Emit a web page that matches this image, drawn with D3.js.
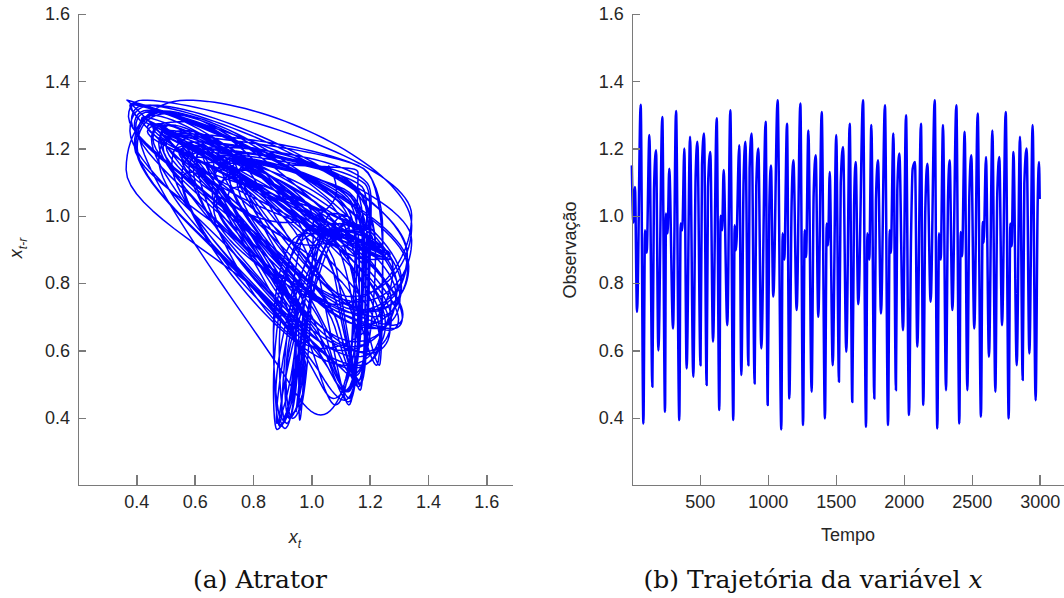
<!DOCTYPE html>
<html>
<head>
<meta charset="utf-8">
<script src="https://cdn.jsdelivr.net/npm/d3@7"></script>
<style>
  body { margin: 0; background: #fff; }
  svg { display: block; }
  .axis .tick text { font-family: "Liberation Sans", Arial, sans-serif; font-size: 18px; fill: #262626; }
  .axis path, .axis line { stroke: #7a7a7a; stroke-width: 1.4; shape-rendering: crispEdges; }
  .lbl { font-family: "Liberation Sans", Arial, sans-serif; font-size: 18px; fill: #262626; }
  .cap { font-family: "DejaVu Serif", serif; font-size: 25px; fill: #111; }
</style>
</head>
<body>
<svg id="chart" width="1064" height="598"></svg>
<script>
// Tick values
const valueTicks = [0.4, 0.6, 0.8, 1.0, 1.2, 1.4, 1.6];
const timeTicks = [500, 1000, 1500, 2000, 2500, 3000];

// Embedding delay r used for the phase portrait (x_t against x_{t-r})
const delay = 19;

// Turning points of the observed series x(t): times and values
const tsTime = [
  1, 12, 24, 39, 66, 86, 98, 110, 130, 152, 164, 179, 196, 225, 245, 252, 264, 276, 304, 326,
  350, 360, 372, 387, 404, 429, 453, 470, 483, 506, 517, 532, 551, 561, 578, 598, 625, 644, 654, 665,
  676, 703, 725, 747, 757, 767, 791, 806, 823, 836, 858, 867, 882, 904, 916, 931, 953, 985, 1000, 1012,
  1024, 1041, 1073, 1100, 1110, 1122, 1142, 1159, 1176, 1189, 1213, 1240, 1260, 1272, 1282, 1299, 1323, 1338, 1353, 1372,
  1397, 1421, 1434, 1444, 1456, 1478, 1504, 1524, 1537, 1554, 1578, 1603, 1622, 1635, 1647, 1666, 1701, 1723, 1733, 1747,
  1762, 1784, 1796, 1811, 1833, 1862, 1885, 1897, 1905, 1924, 1943, 1953, 1968, 1995, 2017, 2039, 2054, 2066, 2083, 2100,
  2127, 2144, 2159, 2174, 2198, 2228, 2247, 2260, 2272, 2289, 2311, 2326, 2338, 2358, 2387, 2409, 2419, 2429, 2448, 2468,
  2483, 2497, 2519, 2544, 2568, 2581, 2588, 2605, 2627, 2652, 2674, 2688, 2703, 2723, 2750, 2772, 2784, 2794, 2807, 2831,
  2855, 2875, 2887, 2904, 2924, 2948, 2970, 2985, 2995, 3000
];
const tsValue = [
  1.15, 0.98, 1.086, 0.715, 1.33, 0.383, 0.957, 0.89, 1.24, 0.492, 1.08, 1.195, 0.60, 1.294, 0.418, 1.007, 0.948, 1.14, 0.665, 1.312,
  0.393, 0.977, 0.957, 1.2, 0.546, 1.235, 0.522, 1.116, 1.22, 0.556, 1.15, 1.245, 0.497, 1.086, 1.19, 0.626, 1.29, 0.423, 1.0, 0.957,
  1.136, 0.675, 1.314, 0.393, 0.972, 0.898, 1.21, 0.527, 1.11, 1.22, 0.556, 1.14, 1.245, 0.502, 1.09, 1.2, 0.606, 1.28, 0.438, 1.027,
  1.15, 0.76, 1.344, 0.365, 0.948, 0.87, 1.274, 0.457, 1.04, 1.165, 0.72, 1.334, 0.378, 0.957, 0.878, 1.254, 0.477, 1.066, 1.18, 0.70,
  1.309, 0.398, 0.977, 0.913, 1.13, 0.556, 1.24, 0.507, 1.096, 1.205, 0.596, 1.274, 0.447, 1.03, 1.16, 0.737, 1.344, 0.373, 0.948, 0.87,
  1.27, 0.457, 1.047, 1.165, 0.71, 1.329, 0.378, 0.957, 0.89, 1.245, 0.482, 1.076, 1.185, 0.66, 1.299, 0.408, 0.937, 1.14, 1.16, 0.611,
  1.274, 0.438, 1.02, 1.155, 0.745, 1.344, 0.368, 0.948, 0.87, 1.27, 0.482, 1.056, 1.165, 0.72, 1.329, 0.383, 0.952, 0.88, 1.25, 0.482,
  1.066, 1.18, 0.665, 1.304, 0.403, 0.982, 0.92, 1.175, 0.581, 1.254, 0.477, 1.066, 1.175, 0.675, 1.309, 0.398, 0.977, 0.91, 1.19, 0.556,
  1.235, 0.512, 1.096, 1.2, 0.591, 1.27, 0.452, 1.037, 1.16, 1.05
];

const series = tsTime.map((t, i) => ({ t, v: tsValue[i] }));

// Monotone cubic (Steffen) slopes, the same rule as d3.curveMonotoneX,
// so the phase portrait follows exactly the curve drawn in panel (b).
const n = series.length;
const h = d3.range(n - 1).map(i => series[i + 1].t - series[i].t);
const s = d3.range(n - 1).map(i => (series[i + 1].v - series[i].v) / h[i]);
const m = series.map((d, i) => {
  if (i === 0) return s[0];
  if (i === n - 1) return s[n - 2];
  const p = (s[i - 1] * h[i] + s[i] * h[i - 1]) / (h[i - 1] + h[i]);
  return (Math.sign(s[i - 1]) + Math.sign(s[i])) * Math.min(Math.abs(s[i - 1]), Math.abs(s[i]), 0.5 * Math.abs(p)) || 0;
});
const bis = d3.bisector(d => d.t).right;
function valueAt(t) {
  const i = Math.min(Math.max(bis(series, t), 1), n - 1) - 1;
  const a = series[i], b = series[i + 1], hh = h[i];
  const u = (t - a.t) / hh, u2 = u * u, u3 = u2 * u;
  return (2 * u3 - 3 * u2 + 1) * a.v + (u3 - 2 * u2 + u) * hh * m[i]
       + (-2 * u3 + 3 * u2) * b.v + (u3 - u2) * hh * m[i + 1];
}

// Phase portrait: x(t) against x(t - r)
const portraitTimes = d3.range(tsTime[0] + delay, tsTime[n - 1] + 0.001, 0.5);
const portrait = portraitTimes.map(t => ({ xt: valueAt(t), xlag: valueAt(t - delay) }));

const svg = d3.select("#chart");

// ---------- (a) phase portrait ----------
const xA = d3.scaleLinear().domain([0.2, 1.688]).range([78, 512]);
const yA = d3.scaleLinear().domain([0.2, 1.6]).range([485, 14]);

const gA = svg.append("g");
gA.append("path")
  .datum(portrait)
  .attr("fill", "none")
  .attr("stroke", "#0000ff")
  .attr("stroke-width", 1.5)
  .attr("stroke-linejoin", "round")
  .attr("d", d3.line().x(d => xA(d.xt)).y(d => yA(d.xlag)));

gA.append("g").attr("class", "axis")
  .attr("transform", "translate(78,0)")
  .call(d3.axisLeft(yA).tickValues(valueTicks).tickFormat(d3.format(".1f")).tickSizeInner(-8).tickSizeOuter(0).tickPadding(8));
gA.append("g").attr("class", "axis")
  .attr("transform", "translate(0,485)")
  .call(d3.axisBottom(xA).tickValues(valueTicks).tickFormat(d3.format(".1f")).tickSizeInner(-10).tickSizeOuter(0).tickPadding(10));

// axis titles
const xl = gA.append("text").attr("class", "lbl").attr("x", 295).attr("y", 543).attr("text-anchor", "middle");
xl.append("tspan").attr("font-style", "italic").text("x");
xl.append("tspan").attr("font-style", "italic").attr("font-size", 12).attr("dy", 5).text("t");

const yl = gA.append("text").attr("class", "lbl").attr("text-anchor", "middle")
  .attr("transform", "translate(22,248) rotate(-90)");
yl.append("tspan").attr("font-style", "italic").text("x");
yl.append("tspan").attr("font-style", "italic").attr("font-size", 12).attr("dy", 5).text("t-r");

gA.append("text").attr("class", "cap").attr("x", 260).attr("y", 588).attr("text-anchor", "middle").text("(a) Atrator");

// ---------- (b) time series ----------
const xT = d3.scaleLinear().domain([0, 3200]).range([631.7, 631.7 + 3200 * 0.136]);
const yT = d3.scaleLinear().domain([0.2, 1.6]).range([485, 14]);

const gB = svg.append("g");
gB.append("path")
  .datum(series)
  .attr("fill", "none")
  .attr("stroke", "#0000ff")
  .attr("stroke-width", 2.5)
  .attr("stroke-linejoin", "round")
  .attr("d", d3.line().x(d => xT(d.t)).y(d => yT(d.v)).curve(d3.curveMonotoneX));

gB.append("g").attr("class", "axis")
  .attr("transform", "translate(631.7,0)")
  .call(d3.axisLeft(yT).tickValues(valueTicks).tickFormat(d3.format(".1f")).tickSizeInner(-8).tickSizeOuter(0).tickPadding(8));
gB.append("g").attr("class", "axis")
  .attr("transform", "translate(0,485)")
  .call(d3.axisBottom(xT).tickValues(timeTicks).tickFormat(d3.format("d")).tickSizeInner(-10).tickSizeOuter(0).tickPadding(10));

gB.append("text").attr("class", "lbl").attr("x", 848).attr("y", 541).attr("text-anchor", "middle").text("Tempo");
gB.append("text").attr("class", "lbl").attr("text-anchor", "middle")
  .attr("transform", "translate(576,250) rotate(-90)").text("Observação");

const cb = gB.append("text").attr("class", "cap").attr("x", 813).attr("y", 588).attr("text-anchor", "middle");
cb.append("tspan").text("(b) Trajetória da variável ");
cb.append("tspan").attr("font-style", "italic").text("x");
</script>
</body>
</html>
